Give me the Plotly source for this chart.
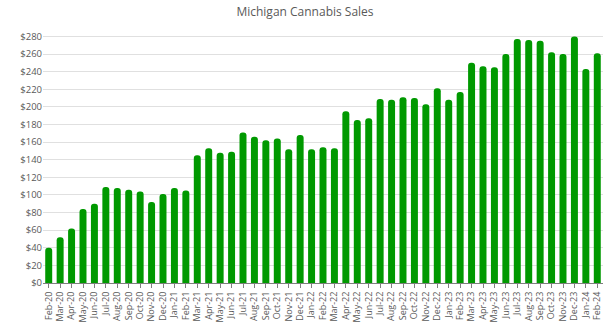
import plotly.graph_objects as go

months = ["Feb-20","Mar-20","Apr-20","May-20","Jun-20","Jul-20","Aug-20","Sep-20","Oct-20","Nov-20","Dec-20",
          "Jan-21","Feb-21","Mar-21","Apr-21","May-21","Jun-21","Jul-21","Aug-21","Sep-21","Oct-21","Nov-21","Dec-21",
          "Jan-22","Feb-22","Mar-22","Apr-22","May-22","Jun-22","Jul-22","Aug-22","Sep-22","Oct-22","Nov-22","Dec-22",
          "Jan-23","Feb-23","Mar-23","Apr-23","May-23","Jun-23","Jul-23","Aug-23","Sep-23","Oct-23","Nov-23","Dec-23",
          "Jan-24","Feb-24"]
sales = [40, 52, 62, 84, 90, 109, 108, 106, 104, 92, 101,
         108, 105, 145, 153, 148, 149, 171, 166, 162, 164, 152, 168,
         152, 154, 153, 195, 185, 187, 209, 208, 211, 210, 203, 221,
         208, 217, 250, 246, 245, 260, 277, 276, 275, 262, 260, 280,
         243, 261]
y_ticks = list(range(0, 281, 20))
y_labels = ["$" + str(v) for v in y_ticks]

fig = go.Figure(go.Bar(x=months, y=sales, marker=dict(color="#009900", line=dict(width=0), cornerradius=3)))
fig.update_layout(
    width=610, height=332,
    margin=dict(l=43, r=7, t=32, b=49),
    paper_bgcolor="white", plot_bgcolor="white",
    bargap=0.39,
    showlegend=False,
    font=dict(family="Open Sans, Liberation Sans, sans-serif", color="#595959"),
    title=dict(text="Michigan Cannabis Sales", x=0.5, xanchor="center", y=0.963, yanchor="middle",
               font=dict(size=12, color="#595959")),
)
fig.update_xaxes(type="category", tickangle=-90, tickfont=dict(size=9, color="#595959"),
                 showline=True, linecolor="#7f7f7f", linewidth=1,
                 ticks="outside", ticklen=4, tickcolor="#7f7f7f", showgrid=False)
fig.update_yaxes(range=[0, 285], tickvals=y_ticks, ticktext=y_labels, tickfont=dict(size=9.5, color="#595959"),
                 showgrid=True, gridcolor="#e0e0e0", gridwidth=1, zeroline=False, ticks="")
fig.write_html("out.html")
